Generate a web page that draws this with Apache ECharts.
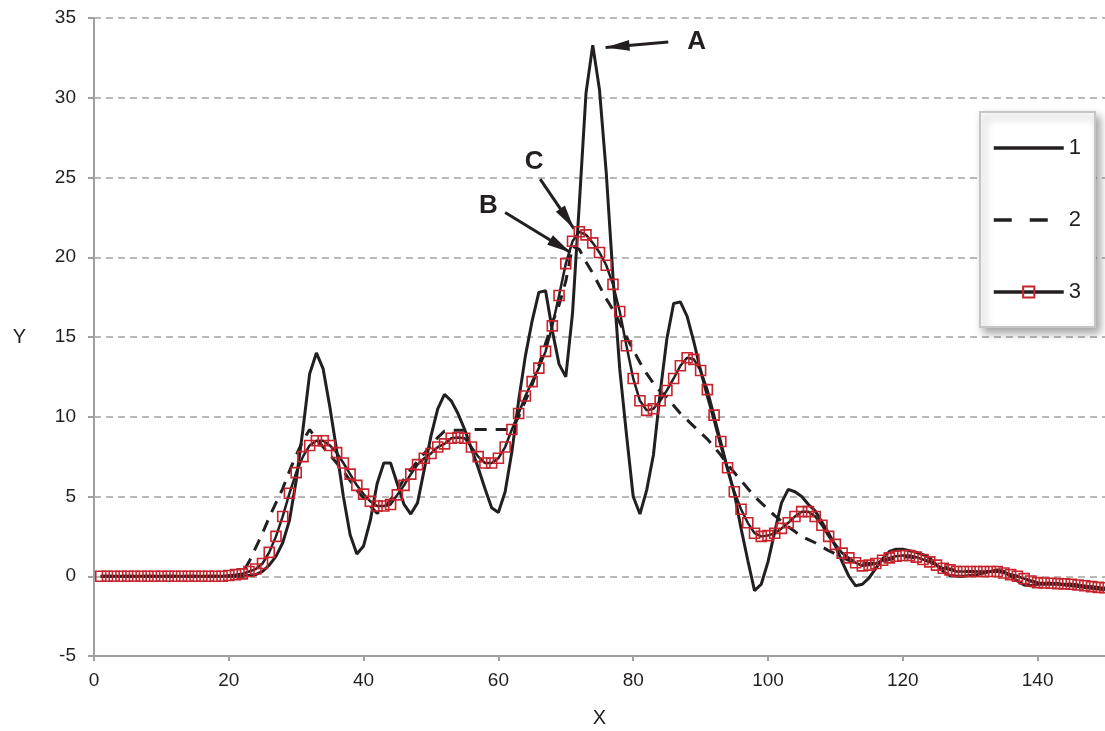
<!DOCTYPE html>
<html>
<head>
<meta charset="utf-8">
<title>Y vs X</title>
<script src="https://cdn.jsdelivr.net/npm/echarts@6/dist/echarts.min.js"></script>
<style>
  html, body { margin: 0; padding: 0; background: #fff; }
  #chart { width: 1105px; height: 731px; }
</style>
</head>
<body>
<div id="chart"></div>
<script>
// Samples are taken at X = 1, 2, ... 150 (one value per unit step).
const xStart = 1;

const series1 = [
  0, 0, 0, 0, 0, 0, 0, 0, 0, 0,
  0, 0, 0, 0, 0, 0, 0, 0, 0, 0,
  0, 0, 0.05, 0.1, 0.3, 0.7, 1.25, 2.1, 3.5, 6.0,
  9.2, 12.7, 14.0, 13.0, 10.6, 7.9, 5.0, 2.6, 1.4, 1.9,
  3.5, 5.8, 7.1, 7.1, 5.8, 4.5, 3.9, 4.6, 6.7, 8.8,
  10.5, 11.4, 11.0, 10.2, 9.2, 8.0, 6.8, 5.5, 4.3, 4.0,
  5.3, 7.8, 11.0, 13.8, 16.0, 17.8, 17.9, 15.4, 13.3, 12.5,
  16.5, 23.3, 30.3, 33.3, 30.5, 25.3, 18.8, 13.0, 8.9, 5.0,
  3.9, 5.4, 7.6, 11.5, 14.9, 17.1, 17.2, 16.3, 14.7, 12.9,
  11.3, 9.8, 8.2, 6.7, 5.2, 3.0, 1.0, -0.9, -0.5, 0.9,
  2.8, 4.6, 5.45, 5.3, 5.0, 4.5, 4.1, 3.4, 2.7, 1.9,
  0.9, 0.0, -0.6, -0.5, -0.1, 0.5, 1.1, 1.55, 1.7, 1.7,
  1.6, 1.5, 1.35, 1.15, 0.7, 0.3, 0.05, 0.0, 0.0, 0.05,
  0.1, 0.2, 0.3, 0.4, 0.3, 0.0, -0.3, -0.55, -0.6, -0.5,
  -0.5, -0.5, -0.5, -0.55, -0.6, -0.65, -0.7, -0.75, -0.8, -0.85
];

const series2 = [
  0, 0, 0, 0, 0, 0, 0, 0, 0, 0,
  0, 0, 0, 0, 0, 0, 0, 0, 0, 0,
  0, 0.2, 0.9, 1.8, 2.7, 3.7, 4.6, 5.5, 6.6, 7.6,
  8.5, 9.2, 8.6, 8.1, 7.6, 7.1, 6.6, 6.0, 5.4, 4.9,
  4.4, 3.95, 4.2, 4.8, 5.4, 6.1, 6.7, 7.2, 7.7, 8.2,
  8.7, 9.1, 9.15, 9.15, 9.15, 9.2, 9.2, 9.2, 9.2, 9.2,
  9.2, 9.25, 10.0, 11.0, 12.0, 13.2, 14.6, 15.9, 17.0, 18.5,
  20.7, 20.5, 19.7, 19.0, 18.2, 17.4, 16.7, 15.9, 15.0, 14.2,
  13.4, 12.7, 12.1, 11.6, 11.2, 10.7, 10.2, 9.8, 9.4, 9.0,
  8.6, 8.1, 7.6, 7.0, 6.5, 6.0, 5.5, 5.0, 4.6, 4.2,
  3.8, 3.45, 3.1, 2.8, 2.5, 2.3, 2.1, 1.85, 1.6, 1.4,
  1.2, 1.0, 0.85, 0.8, 0.8, 0.85, 0.95, 1.05, 1.15, 1.2,
  1.2, 1.15, 1.05, 0.9, 0.75, 0.6, 0.45, 0.35, 0.3, 0.3,
  0.3, 0.3, 0.3, 0.3, 0.2, 0.1, 0.0, -0.15, -0.3, -0.4,
  -0.42, -0.44, -0.46, -0.48, -0.5, -0.55, -0.6, -0.65, -0.7, -0.75
];

const series3 = [
  0, 0, 0, 0, 0, 0, 0, 0, 0, 0,
  0, 0, 0, 0, 0, 0, 0, 0, 0, 0.05,
  0.1, 0.15, 0.3, 0.45, 0.8, 1.5, 2.5, 3.75, 5.2, 6.5,
  7.5, 8.2, 8.5, 8.5, 8.2, 7.75, 7.1, 6.4, 5.7, 5.15,
  4.7, 4.4, 4.4, 4.5, 5.1, 5.7, 6.4, 7.0, 7.4, 7.7,
  8.1, 8.3, 8.65, 8.7, 8.65, 8.1, 7.5, 7.1, 7.1, 7.4,
  8.1, 9.2, 10.2, 11.3, 12.2, 13.05, 14.1, 15.7, 17.6, 19.6,
  21.0, 21.6, 21.4, 20.9, 20.3, 19.5, 18.3, 16.6, 14.45, 12.4,
  11.0, 10.4, 10.5, 11.0, 11.65, 12.4, 13.2, 13.7, 13.6, 12.9,
  11.7, 10.1, 8.45, 6.8, 5.3, 4.2, 3.35, 2.7, 2.5, 2.55,
  2.7, 3.0, 3.35, 3.75, 4.05, 4.05, 3.75, 3.2, 2.5, 2.0,
  1.45, 1.15, 0.85, 0.65, 0.7, 0.8, 1.0, 1.15, 1.25, 1.3,
  1.3, 1.2, 1.05, 0.9, 0.7, 0.5, 0.4, 0.3, 0.3, 0.3,
  0.3, 0.3, 0.3, 0.3, 0.2, 0.1, 0.0, -0.15, -0.3, -0.4,
  -0.42, -0.44, -0.46, -0.48, -0.5, -0.55, -0.6, -0.65, -0.7, -0.72
];

const seriesNames = ['1', '2', '3'];

// Callouts in data units: letter position, arrow tail and arrow tip.
const calloutLetters = ['A', 'B', 'C'];
const calloutTextAt = [[89.4, 33.5], [58.5, 23.2], [65.3, 26.0]];
const calloutTail = [[85.2, 33.5], [61.0, 22.8], [66.2, 24.9]];
const calloutTip = [[75.9, 33.15], [70.7, 20.3], [71.2, 21.8]];

const INK = '#231f20';
const RED = '#c8232c';
const GRID_GREY = '#a3a3a3';
const AXIS_GREY = '#a0a0a0';
const FONT = '"Liberation Sans", Arial, Helvetica, sans-serif';

function toPoints(values) {
  return values.map((v, i) => [xStart + i, v]);
}

const chart = echarts.init(document.getElementById('chart'), null, { renderer: 'canvas' });

const option = {
  animation: false,
  backgroundColor: '#ffffff',
  textStyle: { fontFamily: FONT, color: INK },
  grid: { left: 94, right: 0, top: 18, bottom: 75, outerBoundsMode: 'none' },
  legend: {
    // plain lines for 1 and 2, line with a square marker for 3
    data: [
      { name: seriesNames[0], itemStyle: { opacity: 0 }, lineStyle: { width: 3.5 } },
      { name: seriesNames[1], itemStyle: { opacity: 0 }, lineStyle: { width: 3.5, type: [18, 18] } },
      { name: seriesNames[2], lineStyle: { width: 3.5 } }
    ],
    orient: 'vertical',
    left: 980,
    top: 112,
    padding: [25, 14, 24, 12],
    itemWidth: 70,
    itemHeight: 14,
    itemGap: 50,
    backgroundColor: '#ffffff',
    borderColor: '#c6c6c6',
    borderWidth: 2,
    shadowColor: 'rgba(0,0,0,0.35)',
    shadowBlur: 8,
    shadowOffsetX: 4,
    shadowOffsetY: 5,
    textStyle: { fontFamily: FONT, fontSize: 22, color: INK }
  },
  xAxis: {
    type: 'value',
    min: 0,
    max: 150,
    interval: 20,
    name: 'X',
    nameLocation: 'middle',
    nameGap: 52,
    nameTextStyle: { fontFamily: FONT, fontSize: 20, color: INK },
    axisLine: { show: true, onZero: false, lineStyle: { color: AXIS_GREY, width: 2 } },
    axisTick: { show: true, length: 5, lineStyle: { color: AXIS_GREY, width: 2 } },
    axisLabel: { fontFamily: FONT, fontSize: 19, color: INK, margin: 15, showMaxLabel: false },
    splitLine: { show: false }
  },
  yAxis: {
    type: 'value',
    min: -5,
    max: 35,
    interval: 5,
    name: 'Y',
    nameLocation: 'middle',
    nameRotate: 0,
    nameGap: 68,
    nameTextStyle: { fontFamily: FONT, fontSize: 20, color: INK },
    axisLine: { show: true, onZero: false, lineStyle: { color: AXIS_GREY, width: 2 } },
    axisTick: { show: true, length: 6, lineStyle: { color: AXIS_GREY, width: 2 } },
    axisLabel: { fontFamily: FONT, fontSize: 19, color: INK, margin: 18 },
    splitLine: { show: true, lineStyle: { color: GRID_GREY, width: 1.5, type: [7, 5] } }
  },
  series: [
    {
      name: seriesNames[0],
      type: 'line',
      data: toPoints(series1),
      symbol: 'none',
      lineStyle: { color: INK, width: 3 },
      itemStyle: { color: INK },
      z: 3,
      markPoint: {
        symbol: 'circle',
        symbolSize: 1,
        itemStyle: { color: 'rgba(0,0,0,0)' },
        label: {
          show: true,
          position: 'inside',
          fontFamily: FONT,
          fontSize: 26,
          fontWeight: 'bold',
          color: INK,
          formatter: p => p.name
        },
        data: calloutLetters.map((t, i) => ({ name: t, coord: calloutTextAt[i] }))
      },
      markLine: {
        silent: true,
        symbol: ['none', 'triangle'],
        symbolSize: [11, 24],
        symbolOffset: [0, [0, 12]],
        label: { show: false },
        lineStyle: { color: INK, width: 3, type: 'solid' },
        emphasis: { disabled: true },
        data: calloutTail.map((t, i) => [
          { coord: t, symbol: 'none' },
          { coord: calloutTip[i], symbol: 'triangle' }
        ])
      }
    },
    {
      name: seriesNames[1],
      type: 'line',
      data: toPoints(series2),
      symbol: 'none',
      lineStyle: { color: INK, width: 3, type: [12, 9] },
      itemStyle: { color: INK },
      z: 4
    },
    {
      name: seriesNames[2],
      type: 'line',
      data: toPoints(series3),
      symbol: 'rect',
      symbolSize: 10,
      showSymbol: true,
      lineStyle: { color: INK, width: 2.5 },
      itemStyle: { color: 'rgba(255,255,255,0)', borderColor: RED, borderWidth: 1.6 },
      z: 5
    }
  ]
};

chart.setOption(option);
</script>
</body>
</html>
